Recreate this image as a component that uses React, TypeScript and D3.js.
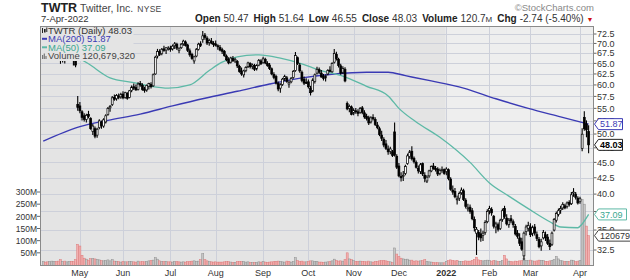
import React from "react";
import * as d3 from "d3";

const W = 630;
const H = 280;

const START_DATE = "2021-04-08";
const END_DATE = "2022-04-07";
const HOLIDAYS = ["2021-05-31", "2021-07-05", "2021-09-06", "2021-11-25", "2021-12-24", "2022-01-17", "2022-02-21"];

// [open, high, low, close, volume (millions)]
const apr21 = [
  [67.5, 68.6, 66.8, 68.2, 14], [68.0, 68.9, 67.1, 67.6, 12], [67.4, 68.3, 66.5, 67.0, 13], [67.2, 69.4, 66.9, 69.1, 15],
  [69.3, 70.6, 68.8, 69.6, 16], [70.0, 71.4, 69.4, 70.8, 15], [70.9, 71.2, 69.3, 69.8, 14], [69.5, 69.9, 67.6, 68.0, 16],
  [68.0, 68.4, 64.9, 66.3, 22], [66.0, 67.8, 65.2, 67.5, 15], [67.6, 68.3, 65.0, 66.2, 16], [66.5, 68.2, 66.2, 67.9, 13],
  [68.0, 69.3, 67.4, 68.9, 14], [68.8, 69.0, 67.0, 67.5, 15], [67.4, 67.9, 64.5, 66.8, 14], [67.0, 67.4, 64.1, 64.6, 22],
  [55.8, 57.6, 54.5, 55.2, 85],
];
const may21 = [
  [55.5, 56.3, 54.0, 54.5, 78], [54.3, 54.6, 52.6, 53.2, 40], [53.5, 54.0, 52.4, 52.8, 28], [52.8, 53.9, 52.2, 53.6, 24],
  [53.8, 54.5, 53.0, 53.4, 20], [53.0, 53.2, 50.8, 51.0, 26], [50.5, 51.9, 49.8, 51.5, 27], [51.0, 51.4, 49.2, 49.6, 25],
  [49.8, 51.2, 49.3, 50.9, 22], [51.2, 52.8, 50.9, 52.5, 21], [52.2, 52.6, 51.0, 51.6, 18], [51.5, 53.0, 51.2, 52.7, 17],
  [52.3, 53.8, 52.0, 53.5, 19], [53.8, 55.3, 53.5, 55.0, 21], [55.1, 55.7, 54.3, 55.4, 17], [55.8, 57.6, 55.5, 57.2, 22],
  [57.3, 57.9, 56.6, 56.9, 16], [57.0, 58.0, 56.6, 57.7, 15], [57.6, 58.1, 56.9, 57.3, 14], [57.4, 58.3, 57.0, 57.9, 12],
];
const jun21 = [
  [58.0, 58.6, 56.9, 57.2, 14], [57.3, 58.5, 57.0, 58.3, 13], [58.2, 58.4, 56.8, 57.1, 13], [57.3, 58.9, 57.1, 58.7, 14],
  [58.8, 59.9, 58.4, 59.5, 15], [59.6, 60.3, 58.9, 59.3, 13], [59.4, 60.1, 58.7, 58.9, 12], [59.0, 60.6, 58.8, 60.2, 16],
  [60.3, 60.9, 59.6, 60.0, 13], [59.9, 60.4, 58.7, 59.0, 14], [59.1, 59.6, 58.3, 58.8, 13], [58.9, 60.1, 58.5, 59.9, 15],
  [59.7, 60.5, 59.0, 60.3, 17], [60.1, 60.6, 59.2, 59.6, 19], [59.8, 62.6, 59.6, 62.3, 20], [62.5, 66.9, 62.3, 66.5, 30],
  [66.8, 68.6, 66.2, 67.9, 24], [68.0, 68.5, 66.8, 67.2, 17], [67.4, 68.8, 67.0, 68.5, 15], [68.6, 69.4, 67.9, 68.2, 14],
  [68.3, 69.0, 67.3, 68.9, 14], [68.8, 69.3, 68.2, 68.8, 13],
];
const jul21 = [
  [68.8, 69.4, 67.9, 68.5, 13], [68.6, 69.7, 68.2, 69.3, 12], [69.4, 70.4, 68.6, 69.9, 15], [69.8, 70.2, 68.3, 68.8, 14],
  [68.2, 69.0, 67.5, 68.6, 13], [68.9, 70.1, 68.6, 69.8, 12], [69.9, 71.0, 69.4, 70.6, 13], [70.4, 70.8, 69.2, 69.5, 12],
  [69.6, 69.9, 67.8, 68.2, 14], [68.1, 68.7, 66.6, 67.1, 15], [67.2, 67.6, 65.9, 66.2, 16], [65.6, 66.9, 64.9, 66.6, 17],
  [66.8, 68.8, 66.5, 68.4, 15], [68.5, 70.2, 68.2, 69.8, 16], [69.9, 70.6, 69.1, 69.5, 22], [71.0, 73.3, 70.2, 72.0, 47],
  [72.2, 72.8, 71.0, 71.6, 22], [71.4, 71.9, 69.6, 70.1, 17], [70.2, 71.2, 69.4, 70.8, 14], [70.6, 71.4, 69.8, 70.1, 13],
  [70.0, 70.6, 69.1, 69.7, 12],
];
const aug21 = [
  [69.9, 70.8, 69.2, 69.5, 13], [69.4, 69.8, 68.4, 69.2, 12], [69.0, 69.6, 68.0, 68.3, 12], [68.4, 68.9, 67.3, 68.0, 12],
  [68.0, 68.3, 66.6, 66.9, 13], [66.8, 67.2, 65.5, 65.9, 14], [66.0, 66.5, 64.8, 65.1, 14], [65.3, 66.6, 65.0, 66.3, 12],
  [66.2, 66.8, 65.4, 65.6, 11], [65.6, 66.4, 65.1, 66.0, 11], [65.5, 65.8, 63.9, 64.4, 14], [64.3, 64.7, 62.8, 63.1, 15],
  [63.2, 64.0, 62.1, 62.5, 14], [62.3, 63.5, 61.7, 63.2, 15], [63.3, 64.3, 62.9, 64.0, 12], [64.2, 65.4, 63.9, 65.1, 13],
  [65.0, 65.3, 63.8, 64.2, 11], [64.3, 65.0, 63.6, 64.6, 10], [64.5, 64.9, 63.2, 63.6, 11], [63.7, 64.8, 63.3, 64.5, 11],
  [64.6, 66.1, 64.3, 65.7, 13], [65.6, 66.0, 64.6, 64.9, 12],
];
const sep21 = [
  [65.2, 66.6, 64.9, 66.1, 14], [66.0, 66.4, 64.8, 65.1, 12], [65.0, 65.5, 64.2, 64.5, 11], [64.6, 65.1, 63.4, 63.8, 12],
  [63.7, 64.0, 62.2, 62.5, 13], [62.4, 62.9, 61.3, 61.7, 14], [61.9, 62.3, 60.1, 60.4, 15], [60.3, 60.8, 58.6, 59.1, 16],
  [59.3, 60.4, 58.3, 60.0, 15], [60.1, 61.6, 59.8, 61.3, 13], [61.4, 62.3, 60.9, 61.9, 12], [61.6, 62.0, 60.5, 60.8, 16],
  [60.2, 61.0, 59.4, 60.5, 15], [60.7, 61.8, 60.4, 61.5, 12], [61.7, 63.4, 61.4, 63.1, 14], [63.3, 67.8, 63.0, 66.9, 30],
  [66.4, 66.7, 64.6, 65.0, 18], [64.6, 65.1, 62.8, 63.2, 15], [62.9, 63.3, 60.6, 61.0, 16], [61.3, 61.9, 60.0, 60.4, 13],
  [60.6, 61.5, 60.2, 60.4, 13],
];
const oct21 = [
  [60.7, 61.2, 59.2, 59.6, 14], [59.3, 59.8, 57.7, 58.3, 17], [58.6, 61.5, 58.4, 61.1, 17], [60.8, 62.6, 60.3, 62.3, 15],
  [62.7, 64.2, 62.4, 63.6, 15], [63.5, 64.0, 62.5, 62.9, 12], [62.7, 63.4, 61.6, 61.8, 12], [61.9, 62.5, 61.0, 61.5, 11],
  [61.6, 62.4, 60.8, 62.1, 12], [62.5, 63.6, 62.2, 63.3, 13], [63.4, 64.3, 62.9, 63.1, 14], [63.0, 65.3, 62.8, 65.0, 17],
  [65.3, 68.6, 65.0, 67.4, 24], [67.2, 67.9, 65.7, 66.2, 18], [66.0, 66.4, 64.0, 64.5, 16], [64.4, 64.9, 62.3, 62.7, 17],
  [62.9, 64.3, 62.5, 63.8, 16], [63.6, 64.1, 60.6, 60.9, 22], [56.0, 56.4, 54.6, 54.9, 50], [55.0, 55.8, 54.2, 55.4, 25],
  [55.3, 55.6, 53.6, 53.8, 22],
];
const nov21 = [
  [54.0, 55.0, 53.6, 54.6, 18], [54.5, 55.1, 53.9, 54.4, 15], [54.3, 54.8, 53.4, 54.0, 14], [54.2, 55.3, 53.9, 55.0, 16],
  [55.1, 55.5, 53.8, 54.2, 15], [54.1, 54.6, 52.9, 53.3, 14], [53.4, 53.9, 52.6, 53.0, 13], [53.1, 53.5, 51.7, 52.1, 16],
  [52.3, 53.4, 52.0, 53.1, 13], [53.2, 53.8, 52.6, 52.9, 12], [52.8, 53.2, 51.5, 51.8, 14], [51.7, 52.3, 50.9, 51.2, 14],
  [51.0, 51.4, 49.6, 49.9, 17], [49.8, 50.6, 48.7, 49.2, 18], [49.0, 49.4, 47.6, 48.0, 19], [48.2, 48.9, 47.1, 47.4, 17],
  [47.3, 47.9, 46.3, 46.8, 15], [46.9, 47.7, 46.4, 47.3, 13], [46.8, 47.1, 45.9, 46.2, 10], [50.4, 52.2, 46.0, 46.2, 70],
  [46.0, 46.4, 43.9, 44.2, 45],
];
const dec21 = [
  [44.4, 44.9, 42.6, 42.8, 35], [42.7, 43.4, 41.9, 42.5, 28], [42.8, 43.6, 42.0, 42.9, 25], [43.2, 44.6, 42.9, 44.3, 22],
  [44.8, 46.5, 44.6, 46.1, 24], [46.0, 47.1, 45.6, 46.8, 20], [46.9, 47.8, 45.3, 45.6, 20], [45.7, 46.0, 44.8, 45.1, 16],
  [45.0, 45.3, 44.0, 44.2, 17], [44.0, 44.5, 43.2, 43.6, 16], [43.5, 44.9, 43.1, 44.6, 17], [44.8, 45.0, 42.8, 43.1, 18],
  [42.9, 43.4, 41.8, 42.4, 22], [42.0, 42.9, 41.7, 42.6, 15], [42.8, 43.8, 42.5, 43.6, 13], [43.6, 44.5, 43.4, 44.3, 12],
  [44.4, 44.9, 43.8, 44.0, 11], [44.0, 44.4, 43.5, 43.9, 9], [43.9, 44.2, 42.8, 43.1, 10], [43.2, 44.0, 42.9, 43.7, 9],
  [43.7, 44.3, 43.3, 43.8, 9], [43.8, 44.0, 43.0, 43.2, 9],
];
const jan22 = [
  [43.5, 44.2, 42.9, 43.9, 15], [43.8, 44.0, 42.1, 42.4, 18], [42.3, 42.6, 40.5, 40.7, 21], [40.6, 41.3, 39.9, 40.3, 19],
  [40.4, 40.9, 39.4, 39.6, 17], [39.3, 39.8, 38.5, 39.3, 19], [39.4, 40.4, 39.0, 40.1, 15], [40.2, 41.0, 39.9, 40.6, 14],
  [40.5, 40.8, 39.0, 39.2, 15], [39.1, 39.4, 37.9, 38.2, 17], [37.9, 38.6, 37.5, 38.0, 16], [38.1, 38.5, 37.2, 37.5, 16],
  [37.6, 38.0, 36.3, 36.5, 18], [36.4, 36.8, 34.8, 35.3, 23], [34.6, 35.4, 31.9, 35.1, 32], [34.7, 35.0, 33.7, 34.1, 21],
  [34.5, 35.2, 33.5, 34.0, 19], [34.3, 34.9, 33.6, 34.6, 17], [34.7, 36.3, 34.4, 36.0, 18], [36.1, 37.8, 35.9, 37.5, 20],
];
const feb22 = [
  [37.6, 38.3, 37.1, 37.9, 19], [37.8, 38.1, 36.9, 37.3, 16], [36.8, 37.0, 35.2, 35.5, 19], [35.4, 36.1, 34.6, 35.8, 17],
  [35.7, 36.0, 34.8, 35.1, 14], [35.2, 36.5, 35.0, 36.3, 15], [36.4, 37.9, 36.1, 37.6, 18], [37.9, 38.3, 36.5, 36.8, 40],
  [36.6, 37.1, 35.6, 35.8, 25], [35.7, 36.6, 35.3, 36.3, 16], [36.5, 37.0, 35.9, 36.2, 14], [36.1, 36.4, 35.3, 35.7, 13],
  [35.5, 35.8, 34.3, 34.5, 16], [34.6, 35.0, 33.9, 34.2, 15], [34.0, 34.6, 33.0, 33.3, 17], [33.5, 34.0, 32.4, 32.6, 18],
  [31.8, 34.8, 31.3, 34.6, 28], [34.8, 35.7, 34.3, 35.4, 19], [35.2, 36.1, 34.8, 35.6, 18],
];
const mar22 = [
  [35.4, 35.9, 34.1, 34.4, 20], [34.6, 35.6, 34.2, 35.3, 17], [35.4, 35.8, 34.3, 34.6, 16], [34.4, 34.8, 33.6, 33.9, 17],
  [33.8, 34.1, 32.7, 32.9, 20], [33.0, 33.9, 32.4, 33.5, 19], [34.0, 35.0, 33.8, 34.7, 18], [34.4, 34.8, 33.6, 34.0, 15],
  [34.1, 34.5, 33.1, 33.3, 15], [33.3, 33.8, 32.5, 32.9, 17], [33.2, 34.8, 33.0, 34.6, 19], [35.0, 36.6, 34.8, 36.4, 22],
  [36.3, 37.5, 36.0, 37.2, 35], [37.1, 37.9, 36.8, 37.6, 25], [37.7, 38.3, 37.2, 37.9, 18], [38.0, 38.8, 37.7, 38.5, 17],
  [38.3, 38.6, 37.8, 38.0, 15], [38.2, 38.9, 37.9, 38.7, 14], [38.8, 39.1, 38.2, 38.5, 14], [38.6, 40.3, 38.4, 39.9, 20],
  [40.2, 40.9, 39.6, 40.3, 18], [40.0, 40.3, 39.2, 39.5, 14], [39.4, 39.7, 38.5, 38.7, 16],
];
const apr22 = [
  [38.9, 39.6, 38.6, 39.31, 18], [47.4, 51.1, 46.9, 49.97, 270], [53.2, 54.4, 50.6, 50.98, 250], [51.9, 52.6, 49.4, 50.77, 160],
  [50.47, 51.64, 46.55, 48.03, 120.679],
];

const ma200Dates = ["2021-04-08", "2021-05-03", "2021-05-20", "2021-06-11", "2021-07-02", "2021-07-26", "2021-08-16", "2021-09-07", "2021-09-28", "2021-10-19", "2021-11-09", "2021-11-23", "2021-12-06", "2021-12-22", "2022-01-13", "2022-02-04", "2022-02-28", "2022-03-21", "2022-04-07"];
const ma200Values = [48.7, 51.4, 52.6, 53.85, 55.5, 57.1, 58.6, 60.2, 61.6, 62.5, 62.9, 62.9, 62.1, 60.9, 59.3, 57.0, 55.0, 53.3, 51.87];

const ma50Dates = ["2021-04-08", "2021-04-22", "2021-05-07", "2021-05-21", "2021-06-08", "2021-06-18", "2021-06-30", "2021-07-15", "2021-07-28", "2021-08-05", "2021-08-16", "2021-08-30", "2021-09-14", "2021-09-28", "2021-10-08", "2021-10-25", "2021-11-09", "2021-11-23", "2021-12-01", "2021-12-13", "2021-12-29", "2022-01-19", "2022-02-01", "2022-02-14", "2022-02-28", "2022-03-14", "2022-03-21", "2022-03-31", "2022-04-04", "2022-04-07"];
const ma50Values = [70.9, 68.3, 64.9, 61.6, 60.5, 59.7, 59.3, 60.0, 63.3, 65.3, 66.6, 67.1, 66.3, 64.9, 63.4, 62.0, 59.7, 57.6, 55.0, 52.3, 49.4, 45.0, 41.7, 39.7, 37.9, 36.1, 35.4, 35.3, 35.8, 37.09];

const priceTicks = [32.5, 35, 37.5, 40, 42.5, 45, 47.5, 50, 52.5, 55, 57.5, 60, 62.5, 65, 67.5, 70, 72.5];
const volumeTicks = [50, 100, 150, 200, 250, 300];
const monthLabels = ["May", "Jun", "Jul", "Aug", "Sep", "Oct", "Nov", "Dec", "2022", "Feb", "Mar", "Apr"];

const LAST_CLOSE = 48.03;
const LAST_MA200 = 51.87;
const LAST_MA50 = 37.09;
const LAST_VOLUME = 120679320;

const FONT = "'Liberation Sans', Arial, Helvetica, sans-serif";

const parse = d3.utcParse("%Y-%m-%d");
const fmt = d3.utcFormat("%Y-%m-%d");
const tradingDays = d3.utcDay
  .range(parse(START_DATE)!, d3.utcDay.offset(parse(END_DATE)!, 1))
  .filter((d) => d.getUTCDay() !== 0 && d.getUTCDay() !== 6 && !HOLIDAYS.includes(fmt(d)));
const rows = [...apr21, ...may21, ...jun21, ...jul21, ...aug21, ...sep21, ...oct21, ...nov21, ...dec21, ...jan22, ...feb22, ...mar22, ...apr22];
const N = Math.min(rows.length, tradingDays.length);
const bars = rows.slice(0, N).map((r, i) => ({
  i,
  date: tradingDays[i],
  o: r[0], h: r[1], l: r[2], c: r[3], v: r[4],
  down: r[3] < (i > 0 ? rows[i - 1][3] : r[0]),
}));
const dateIndex = new Map(tradingDays.map((d, i) => [fmt(d), i]));

const PL = 40, PR = 594, PT = 26, PB = 266;

const x = d3.scaleLinear().domain([-1.5, N + 1.5]).range([PL, PR]);
const yP = d3.scaleLog().domain([32.5, 72.5]).range([250, 34]);
const yV = d3.scaleLinear().domain([0, 300]).range([265, 192]);

const monthStarts: number[] = [];
for (let i = 1; i < N; i++) {
  if (tradingDays[i].getUTCMonth() !== tradingDays[i - 1].getUTCMonth()) monthStarts.push(i);
}
const yearStartIdx = monthStarts[8];

const maLine = d3
  .line<[number, number]>()
  .x((d) => x(d[0]))
  .y((d) => yP(d[1]))
  .curve(d3.curveMonotoneX);
const ma200Pts: [number, number][] = ma200Dates.map((d, k) => [dateIndex.get(d)!, ma200Values[k]]);
const ma50Pts: [number, number][] = ma50Dates.map((d, k) => [dateIndex.get(d)!, ma50Values[k]]);

const BG21 = "#e4e4e4";
const BG22 = "#eeeeee";
const GRID = "#cdd0da";
const BLUE = "#3a3ab4";
const TEAL = "#5db9a6";

function Callout({ yc, label, stroke, color, bold, w }: { yc: number; label: string; stroke: string; color: string; bold?: boolean; w: number }) {
  const p = `M594.5,${yc} L598.5,${yc - 5.5} L${598.5 + w},${yc - 5.5} L${598.5 + w},${yc + 5.5} L598.5,${yc + 5.5} Z`;
  return (
    <g>
      <path d={p} fill="#fff" stroke={stroke} strokeWidth={1} />
      <text x={600} y={yc + 3.2} fontSize={9} fontWeight={bold ? "bold" : "normal"} fill={color} fontFamily={FONT}>
        {label}
      </text>
    </g>
  );
}

export default function App() {
  const bw = 1.9;
  const splitX = x(yearStartIdx) - 0.5;
  return (
    <svg width={W} height={H} style={{ position: "absolute", left: 0, top: 0, background: "#fff" }} fontFamily={FONT}>
      <defs>
        <clipPath id="plot">
          <rect x={PL} y={PT} width={PR - PL} height={PB - PT} />
        </clipPath>
      </defs>
      <rect x={0} y={0} width={W} height={H} fill="#fff" />
      {/* header */}
      <text x={41} y={12} fill="#222">
        <tspan fontSize={12.5} fontWeight="bold">TWTR</tspan>
        <tspan fontSize={10.5} fill="#444" dx={3}>Twitter, Inc.</tspan>
        <tspan fontSize={8.5} fill="#444" dx={4} letterSpacing={0.3}>NYSE</tspan>
      </text>
      <text x={41} y={21.5} fontSize={9.5} fill="#333">7-Apr-2022</text>
      <text x={594} y={11} fontSize={9.5} fill="#888" textAnchor="end">©StockCharts.com</text>
      <text x={195} y={21.5} fontSize={10} fill="#333">
        <tspan fontWeight="bold" fill="#222">Open</tspan>
        <tspan dx={3}>50.47</tspan>
        <tspan dx={5} fontWeight="bold" fill="#222">High</tspan>
        <tspan dx={3}>51.64</tspan>
        <tspan dx={5} fontWeight="bold" fill="#222">Low</tspan>
        <tspan dx={3}>46.55</tspan>
        <tspan dx={5} fontWeight="bold" fill="#222">Close</tspan>
        <tspan dx={3}>48.03</tspan>
        <tspan dx={5} fontWeight="bold" fill="#222">Volume</tspan>
        <tspan dx={3}>120.7</tspan>
        <tspan fontSize={8}>M</tspan>
        <tspan dx={5} fontWeight="bold" fill="#222">Chg</tspan>
        <tspan dx={3}>-2.74 (-5.40%)</tspan>
        <tspan dx={3} fill="#d01010" fontSize={7}>▼</tspan>
      </text>

      {/* plot background */}
      <rect x={PL} y={PT} width={splitX - PL} height={PB - PT} fill={BG21} />
      <rect x={splitX} y={PT} width={PR - splitX} height={PB - PT} fill={BG22} />

      {/* grid */}
      {priceTicks.map((t) => (
        <line key={"h" + t} x1={PL} x2={PR} y1={Math.round(yP(t)) + 0.5} y2={Math.round(yP(t)) + 0.5} stroke={GRID} strokeWidth={1} />
      ))}
      {monthStarts.map((i) => (
        <line key={"v" + i} x1={Math.round(x(i)) + 0.5} x2={Math.round(x(i)) + 0.5} y1={PT} y2={PB} stroke={GRID} strokeWidth={1} />
      ))}

      <g clipPath="url(#plot)">
        {/* volume */}
        {bars.map((b) => (
          <rect
            key={"vol" + b.i}
            x={x(b.i) - 1}
            y={yV(b.v)}
            width={2}
            height={Math.max(0.5, PB - yV(b.v))}
            fill={b.down ? "#f2b0b0" : "#c6c6c6"}
            stroke={b.down ? "#dc7878" : "#8e8e8e"}
            strokeWidth={0.5}
          />
        ))}
        {/* moving averages */}
        <path d={maLine(ma200Pts) || ""} fill="none" stroke={BLUE} strokeWidth={1.4} />
        <path d={maLine(ma50Pts) || ""} fill="none" stroke={TEAL} strokeWidth={1.3} />
        {/* candles */}
        {bars.map((b) => {
          const top = yP(Math.max(b.o, b.c));
          const bot = yP(Math.min(b.o, b.c));
          const up = b.c >= b.o;
          return (
            <g key={"c" + b.i}>
              <line x1={x(b.i)} x2={x(b.i)} y1={yP(b.h)} y2={yP(b.l)} stroke="#000" strokeWidth={1.1} />
              <rect
                x={x(b.i) - bw / 2}
                y={top}
                width={bw}
                height={Math.max(1, bot - top)}
                fill={up ? "#fff" : "#000"}
                stroke="#000"
                strokeWidth={0.7}
              />
            </g>
          );
        })}
      </g>

      {/* legend */}
      <rect x={PL + 0.5} y={PT + 0.5} width={93} height={34.5} fill={BG21} />
      <g>
        <line x1={42.5} x2={42.5} y1={28} y2={33} stroke="#222" />
        <rect x={44} y={29} width={1.6} height={3.5} fill="#222" />
        <line x1={46.8} x2={46.8} y1={27.5} y2={32} stroke="#222" />
        <text x={48} y={33.5} fontSize={9.5} fill="#333">TWTR (Daily) {LAST_CLOSE.toFixed(2)}</text>
        <line x1={42} x2={47} y1={38.8} y2={38.8} stroke={BLUE} strokeWidth={2} />
        <text x={48} y={42} fontSize={9.5} fill={BLUE}>MA(200) {LAST_MA200.toFixed(2)}</text>
        <line x1={42} x2={47} y1={47.3} y2={47.3} stroke={TEAL} strokeWidth={2} />
        <text x={48} y={50.5} fontSize={9.5} fill="#3aa890">MA(50) {LAST_MA50.toFixed(2)}</text>
        <rect x={42} y={55} width={1.2} height={4} fill="#777" />
        <rect x={43.7} y={53.5} width={1.2} height={5.5} fill="#777" />
        <rect x={45.4} y={56} width={1.2} height={3} fill="#777" />
        <text x={48} y={59} fontSize={9.5} fill="#444">Volume {d3.format(",")(LAST_VOLUME)}</text>
      </g>

      {/* border */}
      <rect x={PL + 0.5} y={PT + 0.5} width={PR - PL - 1} height={PB - PT - 1} fill="none" stroke="#8a8a8a" strokeWidth={1} />

      {/* right price axis */}
      {priceTicks.map((t) => (
        <g key={"pt" + t}>
          <line x1={PR} x2={PR + 2.5} y1={yP(t)} y2={yP(t)} stroke="#666" />
          <text x={597} y={yP(t) + 3.2} fontSize={9} fill="#333">{t.toFixed(1)}</text>
        </g>
      ))}

      {/* left volume axis */}
      {volumeTicks.map((t) => (
        <g key={"vt" + t}>
          <line x1={PL - 3} x2={PL} y1={yV(t)} y2={yV(t)} stroke="#666" />
          <text x={PL - 3} y={yV(t) + 3.2} fontSize={8.5} fill="#333" textAnchor="end">{t}M</text>
        </g>
      ))}

      {/* month labels */}
      {monthStarts.map((i, k) => (
        <text
          key={"m" + i}
          x={x(i)}
          y={276}
          fontSize={9}
          fill="#333"
          textAnchor="middle"
          fontWeight={monthLabels[k] === "2022" ? "bold" : "normal"}
        >
          {monthLabels[k]}
        </text>
      ))}

      {/* value callouts */}
      <Callout yc={yV(LAST_VOLUME / 1e6)} label={String(LAST_VOLUME)} stroke="#444" color="#333" w={40} />
      <Callout yc={yP(LAST_MA50)} label={LAST_MA50.toFixed(2)} stroke={TEAL} color="#3aa890" w={28} />
      <Callout yc={yP(LAST_CLOSE)} label={LAST_CLOSE.toFixed(2)} stroke="#222" color="#000" bold w={24} />
      <Callout yc={yP(LAST_MA200)} label={LAST_MA200.toFixed(2)} stroke={BLUE} color={BLUE} w={24} />
    </svg>
  );
}
